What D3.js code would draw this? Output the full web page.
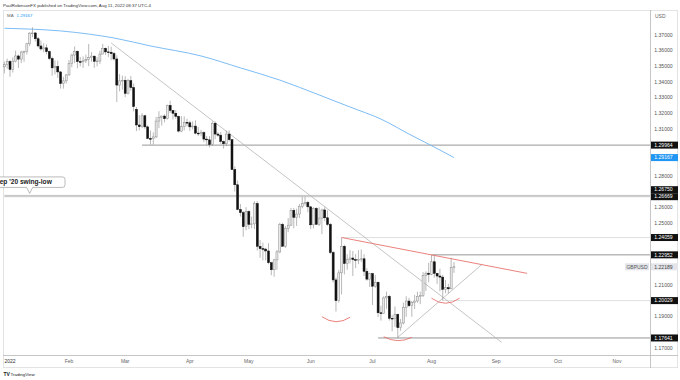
<!DOCTYPE html>
<html><head><meta charset="utf-8">
<script src="https://cdn.jsdelivr.net/npm/d3@7"></script>
<style>html,body{margin:0;padding:0;background:#fff;}svg{display:block;font-family:"Liberation Sans",Arial,sans-serif;}</style>
</head><body><svg id="c" width="680" height="380"></svg>
<script>
// ---------------- DATA ----------------
const firstBarDate = "2021-12-30";           // first daily bar shown (weekday bars)
const open = [
 1.3497,1.3510,
 1.3531,1.3480,1.3533,1.3566,1.3546,1.3591,1.3595,1.3644,1.3712,1.3713,1.3676,1.3630,1.3611,1.3618,1.3594,1.3550,1.3490,1.3499,1.3464,1.3390,1.3407,
 1.3445,1.3519,1.3572,1.3596,1.3530,1.3529,1.3535,1.3545,1.3555,1.3565,1.3532,1.3534,1.3578,1.3615,1.3592,1.3590,1.3581,1.3547,1.3380,1.3407,
 1.3411,1.3327,1.3408,1.3364,1.3225,1.3125,1.3114,1.3184,1.3113,1.3039,1.3038,1.3049,1.3150,1.3174,1.3182,1.3165,1.3250,1.3218,1.3200,1.3180,1.3086,1.3114,1.3142,
 1.3139,1.3113,1.3118,1.3073,1.3072,1.3076,1.3035,1.3030,1.3000,1.3136,1.3067,1.3060,1.3020,1.3005,1.3067,1.3031,1.2840,1.2743,1.2585,1.2565,1.2475,
 1.2572,1.2490,1.2493,1.2623,1.2350,1.2335,1.2332,1.2320,1.2245,1.2200,1.2263,1.2314,1.2490,1.2350,1.2465,1.2485,1.2580,1.2535,1.2556,1.2605,1.2622,1.2630,
 1.2602,1.2487,1.2592,1.2490,1.2530,1.2582,1.2532,1.2490,1.2310,1.2135,1.2002,1.2180,1.2350,1.2240,1.2265,1.2275,1.2265,1.2260,1.2267,1.2270,1.2190,1.2140,
 1.2175,1.2095,1.2120,1.1925,1.1920,1.2020,1.2030,1.1890,1.1888,1.1915,1.1830,1.1860,1.1960,1.2000,1.1970,1.1990,1.2000,1.2030,1.2035,1.2164,1.2178,
 1.2170,1.2251,1.2177,1.2160,1.2153,1.2075,1.2085,1.2078,1.2215];
const high = [
 1.3530,1.3549,
 1.3540,1.3557,1.3600,1.3575,1.3600,1.3600,1.3650,1.3718,1.3749,1.3719,1.3687,1.3665,1.3648,1.3640,1.3600,1.3562,1.3538,1.3536,1.3470,1.3433,1.3450,
 1.3540,1.3580,1.3627,1.3600,1.3560,1.3563,1.3575,1.3643,1.3590,1.3567,1.3558,1.3600,1.3643,1.3620,1.3630,1.3625,1.3593,1.3570,1.3450,1.3440,
 1.3437,1.3420,1.3438,1.3390,1.3240,1.3188,1.3201,1.3190,1.3123,1.3090,1.3078,1.3177,1.3213,1.3185,1.3194,1.3255,1.3280,1.3220,1.3220,1.3185,1.3182,1.3180,1.3165,
 1.3152,1.3148,1.3155,1.3112,1.3094,1.3085,1.3055,1.3054,1.3148,1.3148,1.3080,1.3080,1.3026,1.3089,1.3090,1.3034,1.2860,1.2770,1.2620,1.2575,1.2600,
 1.2580,1.2540,1.2638,1.2638,1.2390,1.2373,1.2340,1.2370,1.2250,1.2270,1.2326,1.2500,1.2500,1.2480,1.2530,1.2595,1.2595,1.2590,1.2620,1.2666,1.2667,1.2640,
 1.2608,1.2600,1.2600,1.2599,1.2590,1.2600,1.2580,1.2500,1.2320,1.2150,1.2200,1.2406,1.2360,1.2300,1.2325,1.2320,1.2300,1.2325,1.2330,1.2300,1.2210,1.2180,
 1.2180,1.2165,1.2125,1.1970,1.2030,1.2060,1.2040,1.1910,1.1965,1.1920,1.1885,1.1990,1.2030,1.2020,1.2000,1.2040,1.2060,1.2060,1.2185,1.2190,1.2245,
 1.2294,1.2293,1.2180,1.2206,1.2167,1.2135,1.2110,1.2276,1.2250];
const low = [
 1.3455,1.3485,
 1.3433,1.3460,1.3525,1.3489,1.3520,1.3529,1.3575,1.3630,1.3686,1.3658,1.3620,1.3600,1.3590,1.3577,1.3540,1.3440,1.3448,1.3426,1.3358,1.3357,1.3390,
 1.3440,1.3495,1.3520,1.3488,1.3500,1.3490,1.3521,1.3501,1.3530,1.3490,1.3500,1.3515,1.3577,1.3572,1.3560,1.3540,1.3536,1.3272,1.3340,1.3350,
 1.3303,1.3320,1.3345,1.3212,1.3086,1.3090,1.3105,1.3100,1.3035,1.3000,1.3000,1.3040,1.3105,1.3121,1.3142,1.3160,1.3202,1.3160,1.3164,1.3077,1.3080,1.3090,1.3115,
 1.3087,1.3096,1.3065,1.3055,1.3053,1.3016,1.2997,1.2982,1.2990,1.3034,1.3050,1.3005,1.2974,1.2990,1.3020,1.2838,1.2700,1.2580,1.2540,1.2411,1.2452,
 1.2460,1.2465,1.2460,1.2323,1.2276,1.2260,1.2260,1.2235,1.2165,1.2155,1.2200,1.2306,1.2350,1.2340,1.2440,1.2480,1.2465,1.2480,1.2530,1.2593,1.2610,1.2567,
 1.2460,1.2465,1.2490,1.2480,1.2427,1.2510,1.2480,1.2300,1.2118,1.1933,1.1990,1.2042,1.2170,1.2200,1.2240,1.2160,1.2210,1.2236,1.2250,1.2160,1.2130,1.2090,
 1.1975,1.2085,1.1898,1.1875,1.1917,1.1950,1.1875,1.1807,1.1835,1.1760,1.1810,1.1850,1.1900,1.1960,1.1900,1.1950,1.1990,1.1980,1.2025,1.2065,1.2120,
 1.2165,1.2150,1.2110,1.2063,1.2003,1.2050,1.2050,1.2075,1.2180];
const close = [
 1.3510,1.3531,
 1.3480,1.3533,1.3566,1.3546,1.3591,1.3595,1.3644,1.3712,1.3713,1.3676,1.3630,1.3611,1.3618,1.3594,1.3550,1.3490,1.3499,1.3464,1.3390,1.3407,1.3445,
 1.3519,1.3572,1.3596,1.3530,1.3529,1.3535,1.3545,1.3555,1.3565,1.3532,1.3534,1.3578,1.3615,1.3592,1.3590,1.3581,1.3547,1.3380,1.3407,1.3411,
 1.3327,1.3408,1.3364,1.3243,1.3125,1.3114,1.3184,1.3113,1.3039,1.3038,1.3049,1.3150,1.3174,1.3182,1.3165,1.3250,1.3218,1.3200,1.3180,1.3086,1.3114,1.3142,1.3139,
 1.3113,1.3118,1.3073,1.3072,1.3076,1.3035,1.3030,1.3000,1.3136,1.3067,1.3060,1.3020,1.3005,1.3067,1.3031,1.2840,1.2743,1.2585,1.2565,1.2475,1.2572,
 1.2490,1.2493,1.2623,1.2350,1.2335,1.2332,1.2320,1.2245,1.2200,1.2263,1.2314,1.2490,1.2350,1.2465,1.2485,1.2580,1.2535,1.2556,1.2605,1.2622,1.2630,1.2602,
 1.2487,1.2592,1.2490,1.2530,1.2582,1.2532,1.2490,1.2310,1.2135,1.2002,1.2180,1.2350,1.2240,1.2265,1.2275,1.2265,1.2260,1.2267,1.2270,1.2190,1.2140,1.2175,
 1.2095,1.2120,1.1925,1.1920,1.2020,1.2030,1.1890,1.1888,1.1915,1.1830,1.1860,1.1960,1.2000,1.1970,1.1990,1.2000,1.2030,1.2035,1.2164,1.2178,1.2170,
 1.2251,1.2177,1.2160,1.2153,1.2075,1.2085,1.2078,1.2215,1.2219];

// moving average, read at sample dates
const maDates  = ["2021-12-30","2022-01-12","2022-01-27","2022-02-10","2022-02-23","2022-03-14","2022-04-07","2022-04-27","2022-05-17","2022-06-06","2022-06-21","2022-07-06","2022-07-20","2022-08-04","2022-08-11"];
const maValues = [1.3743,1.3738,1.3726,1.3706,1.3681,1.3630,1.3566,1.3490,1.3412,1.3317,1.3240,1.3163,1.3067,1.2965,1.29167];
const maLast = 1.29167;

// horizontal levels
const levelPrices = [1.29964, 1.26750, 1.26669, 1.24059, 1.22952, 1.20029, 1.17641];
const levelFrom   = ["2022-03-09","2021-12-30","2021-12-30","2022-06-16","2022-08-01","2022-08-05","2022-07-05"];
const levelTone   = ["dark","pair","pair","light","dark","light","dark"];

// trend lines [startDate, startPrice, endDate, endPrice]
const greyTrendDates  = [["2022-02-22","2022-09-05"], ["2022-07-14","2022-08-25"]];
const greyTrendPrices = [[1.3649, 1.1736], [1.1768, 1.2235]];
const redTrendDates  = ["2022-06-16","2022-09-16"];
const redTrendPrices = [1.2406, 1.2177];

// red "smile" arcs: [left, bottom, right]
const arcDates  = [["2022-06-07","2022-06-14","2022-06-21"],["2022-07-07","2022-07-14","2022-07-21"],["2022-08-01","2022-08-08","2022-08-15"]];
const arcPrices = [[1.1900,1.1868,1.1896],[1.1772,1.1747,1.1768],[1.2018,1.1986,1.2018]];

const lastPrice = 1.22189;
const symbol = "GBPUSD";
const priceTicks = [1.17,1.18,1.19,1.20,1.21,1.22,1.23,1.24,1.25,1.26,1.27,1.28,1.29,1.30,1.31,1.32,1.33,1.34,1.35,1.36,1.37];
const monthTickDates  = ["2022-01-03","2022-02-01","2022-03-01","2022-04-01","2022-05-02","2022-06-01","2022-07-01","2022-08-01","2022-09-01","2022-10-03","2022-11-01"];
const monthTickLabels = ["2022","Feb","Mar","Apr","May","Jun","Jul","Aug","Sep","Oct","Nov"];
const swingLabel = "Sep '20 swing-low";
const swingLevel = 1.26750, swingDate = "2022-01-12";
const credit = "PaulRobinsonFX published on TradingView.com, Aug 11, 2022 08:37 UTC-4";

// ---------------- CHART ----------------
const svg = d3.select("#c");
const L = 3, R = 650, T = 10, B = 355, FB = 368, FR = 678;

// weekday bar calendar
const parse = d3.utcParse("%Y-%m-%d"), fmt = d3.utcFormat("%Y-%m-%d");
const allDays = d3.utcDay.range(parse(firstBarDate), parse("2023-01-01")).filter(d => d.getUTCDay() % 6 !== 0);
const dayIndex = new Map(allDays.map((d,i) => [fmt(d), i]));
const idx = s => dayIndex.get(s);

const x = d3.scaleLinear().domain([-0.49, 229.76]).range([L, R]);
const y = d3.scaleLinear().domain([1.17, 1.37]).range([348, 35]);

svg.append("rect").attr("width",680).attr("height",380).attr("fill","#fff");
svg.append("defs").append("clipPath").attr("id","pl").append("rect")
  .attr("x",L).attr("y",T).attr("width",R-L).attr("height",B-T);

// frame
svg.append("rect").attr("x",L+0.5).attr("y",T+0.5).attr("width",FR-L-1).attr("height",FB-T-1)
  .attr("fill","none").attr("stroke","#e3e3e3");

const plot = svg.append("g").attr("clip-path","url(#pl)");

// levels
levelPrices.forEach((p,i) => {
  const tone = levelTone[i];
  plot.append("line").attr("x1", x(idx(levelFrom[i]))).attr("x2", R)
    .attr("y1", y(p)).attr("y2", y(p))
    .attr("stroke", tone === "light" ? "#dcdcdc" : tone === "pair" ? "#9a9a9a" : "#8a8a8a")
    .attr("stroke-width", tone === "pair" ? 0.6 : 0.9);
});

// MA
const maPts = maDates.map((d,i) => [idx(d), maValues[i]]);
plot.append("path").datum(maPts)
  .attr("d", d3.line().x(d => x(d[0])).y(d => y(d[1])).curve(d3.curveMonotoneX))
  .attr("fill","none").attr("stroke","#7dbdf5").attr("stroke-width",1.0);

// grey trend lines
greyTrendDates.forEach((dd,i) => {
  plot.append("line").attr("x1", x(idx(dd[0]))).attr("y1", y(greyTrendPrices[i][0]))
    .attr("x2", x(idx(dd[1]))).attr("y2", y(greyTrendPrices[i][1]))
    .attr("stroke","#b5b5b5").attr("stroke-width",0.8);
});

// candles
const bars = open.map((o,i) => ({k:i, o, h:high[i], l:low[i], c:close[i]}));
const bw = 2.0;
const cg = plot.append("g");
cg.selectAll("line.w").data(bars).join("line")
  .attr("x1", d => x(d.k)).attr("x2", d => x(d.k))
  .attr("y1", d => y(d.h)).attr("y2", d => y(d.l))
  .attr("stroke","#9a9a9a").attr("stroke-width",0.7);
cg.selectAll("rect.b").data(bars).join("rect")
  .attr("x", d => x(d.k) - bw/2).attr("width", bw)
  .attr("y", d => y(Math.max(d.o,d.c)))
  .attr("height", d => Math.max(0.8, Math.abs(y(d.o)-y(d.c))))
  .attr("fill", d => d.c >= d.o ? "#e9e9e9" : "#111")
  .attr("stroke", d => d.c >= d.o ? "#8c8c8c" : "#111")
  .attr("stroke-width", 0.5);

// red trend line
plot.append("line").attr("x1", x(idx(redTrendDates[0]))).attr("y1", y(redTrendPrices[0]))
  .attr("x2", x(idx(redTrendDates[1]))).attr("y2", y(redTrendPrices[1]))
  .attr("stroke","#e8736e").attr("stroke-width",0.9);

// arcs
arcDates.forEach((dd,i) => {
  const p0=[x(idx(dd[0])), y(arcPrices[i][0])], pm=[x(idx(dd[1])), y(arcPrices[i][1])], p1=[x(idx(dd[2])), y(arcPrices[i][2])];
  const cx = 2*pm[0]-(p0[0]+p1[0])/2, cy = 2*pm[1]-(p0[1]+p1[1])/2;
  plot.append("path").attr("d", `M${p0[0]},${p0[1]}Q${cx},${cy} ${p1[0]},${p1[1]}`)
    .attr("fill","none").attr("stroke","#e8736e").attr("stroke-width",0.9);
});

// swing-low callout (clipped at the left edge, as in the original)
{
  const tx = x(idx(swingDate)), ty = y(swingLevel) - 2;
  const bx0 = -12, bx1 = 65, by1 = ty - 6, by0 = by1 - 10.5, r = 2.5;
  const path = `M${bx0+r},${by0}H${bx1-r}Q${bx1},${by0} ${bx1},${by0+r}V${by1-r}Q${bx1},${by1} ${bx1-r},${by1}` +
    `H${tx+3}L${tx},${ty}L${tx-3},${by1}H${bx0+r}Q${bx0},${by1} ${bx0},${by1-r}V${by0+r}Q${bx0},${by0} ${bx0+r},${by0}Z`;
  svg.append("path").attr("d",path).attr("fill","#fff").attr("stroke","#9e9e9e").attr("stroke-width",0.7);
  svg.append("text").attr("x", (bx0+bx1)/2 - 3).attr("y", (by0+by1)/2).attr("dy","0.35em")
    .attr("text-anchor","middle").attr("font-size",6.6).attr("font-weight","bold").attr("fill","#222")
    .text(swingLabel);
}

// axes separators
svg.append("line").attr("x1",R+0.5).attr("x2",R+0.5).attr("y1",T).attr("y2",FB).attr("stroke","#b8b8b8").attr("stroke-width",0.8);
svg.append("line").attr("x1",L).attr("x2",FR).attr("y1",B+0.5).attr("y2",B+0.5).attr("stroke","#b8b8b8").attr("stroke-width",0.8);

// price labels with overlap resolution
const lbls = levelPrices.map(p => ({p, y:y(p), kind:"level"}))
  .concat([{p:maLast, y:y(maLast), kind:"ma"}, {p:lastPrice, y:y(lastPrice), kind:"last"}]);
lbls.sort((a,b) => b.y - a.y);
const bh = 7;
for (let i=1;i<lbls.length;i++){ if (lbls[i-1].y - lbls[i].y < bh) lbls[i].y = lbls[i-1].y - bh; }

// price ticks (those hidden behind a price label are not drawn)
const visibleTicks = priceTicks.filter(t => lbls.every(l => Math.abs(y(t) - l.y) >= bh));
svg.append("g").selectAll("text").data(visibleTicks).join("text")
  .attr("x", 663.5).attr("y", d => y(d)).attr("dy","0.35em").attr("text-anchor","middle")
  .attr("font-size",5.1).attr("fill","#555").text(d => d.toFixed(5));
svg.append("text").attr("x",655).attr("y",16).attr("dy","0.35em").attr("font-size",5).attr("fill","#666").text("USD");

lbls.forEach(l => {
  const fill = l.kind==="ma" ? "#2196f3" : l.kind==="last" ? "#e3e5ea" : "#111";
  const tc = l.kind==="last" ? "#444" : "#fff";
  svg.append("rect").attr("x",R+1).attr("y",l.y-bh/2).attr("width",27).attr("height",bh).attr("fill",fill);
  svg.append("text").attr("x",663.5).attr("y",l.y).attr("dy","0.35em").attr("text-anchor","middle")
    .attr("font-size",5.1).attr("fill",tc).text(l.p.toFixed(5));
  if (l.kind==="last") {
    svg.append("rect").attr("x",625).attr("y",l.y-bh/2).attr("width",24).attr("height",bh).attr("fill","#e3e5ea");
    svg.append("text").attr("x",637).attr("y",l.y).attr("dy","0.35em").attr("text-anchor","middle")
      .attr("font-size",5).attr("fill","#555").text(symbol);
  }
});

// time axis labels
monthTickDates.forEach((d,i) => {
  svg.append("text").attr("x", x(idx(d))).attr("y", 361).attr("dy","0.35em").attr("text-anchor","middle")
    .attr("font-size",5).attr("fill", i===0 ? "#333" : "#666").text(monthTickLabels[i]);
});

// header texts
svg.append("text").attr("x",3).attr("y",5).attr("dy","0.35em").attr("font-size",4.4).attr("fill","#333").text(credit);
const ma = svg.append("text").attr("x",7).attr("y",15.5).attr("dy","0.35em").attr("font-size",4.4);
ma.append("tspan").attr("fill","#666").text("MA");
ma.append("tspan").attr("fill","#2196f3").attr("dx",3).text(maLast.toFixed(5));

// logo
svg.append("text").attr("x",3.5).attr("y",374).attr("dy","0.35em").attr("font-size",5).attr("font-weight","bold").attr("fill","#131722").text("TV");
svg.append("text").attr("x",10.5).attr("y",374).attr("dy","0.35em").attr("font-size",4.4).attr("fill","#131722").text("TradingView");
</script></body></html>
